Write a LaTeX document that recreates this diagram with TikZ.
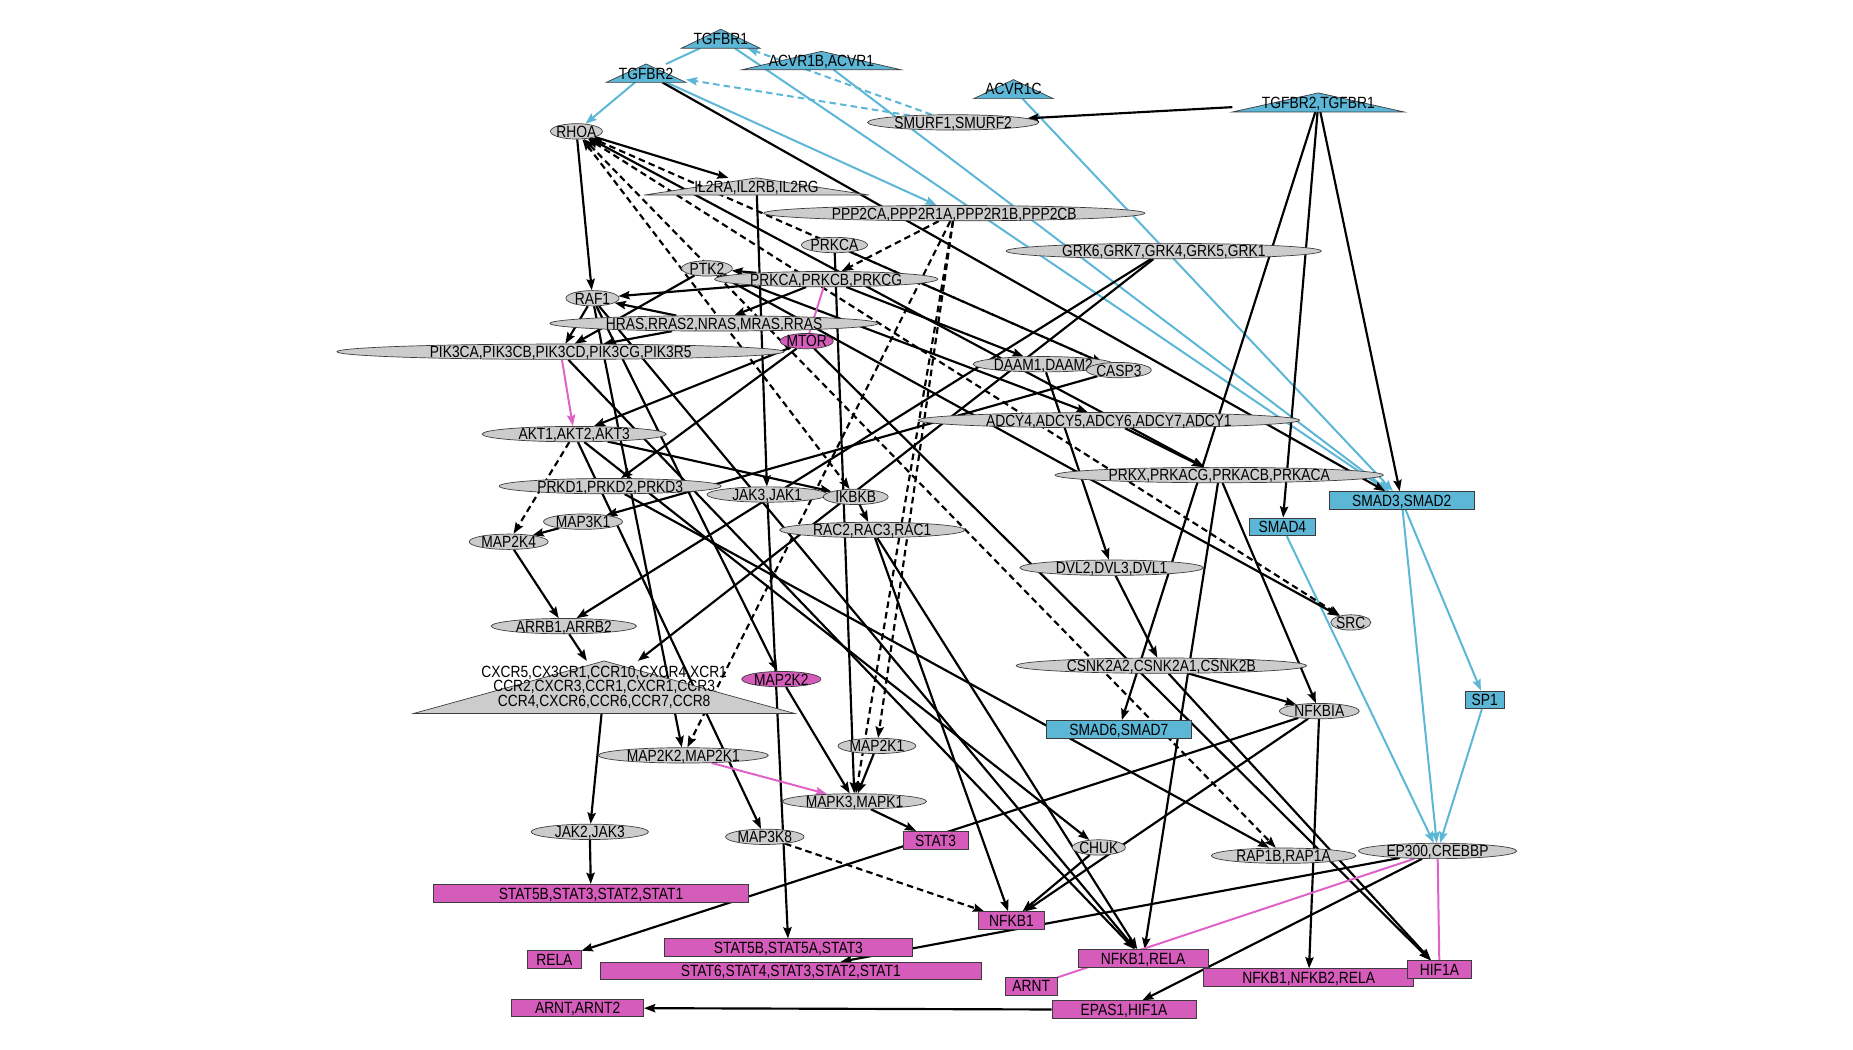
\documentclass[tikz,border=0pt]{standalone}
\usepackage{fontspec}
\setmainfont[FakeStretch=0.85]{Liberation Sans}
\usetikzlibrary{shapes.geometric, arrows.meta}
\definecolor{tgfblue}{RGB}{92,182,214}
\definecolor{hubpink}{RGB}{213,92,186}
\definecolor{pinkedge}{RGB}{222,98,200}
\definecolor{nodegray}{RGB}{204,204,204}
\definecolor{nodeline}{RGB}{60,60,60}
\pgfdeclarelayer{edges}
\pgfdeclarelayer{shapes}
\pgfsetlayers{edges,shapes,main}

\begin{document}
\begin{tikzpicture}[x=0.024cm, y=-0.024cm,
  every label/.style={font=\fontsize{9.4}{8.2}\selectfont, inner sep=0pt, text height=6.8pt, text depth=0pt},
  ell/.style={ellipse, draw=nodeline, line width=0.4pt, fill=nodegray, inner sep=0pt,
    minimum height=13*0.024cm, minimum width=#1*0.024cm},
  mell/.style={ell=#1, fill=hubpink},
  rbox/.style={rectangle, draw=nodeline, line width=0.5pt, fill=hubpink, inner sep=0pt,
    minimum height=15*0.024cm, minimum width=#1*0.024cm},
  bbox/.style={rbox=#1, fill=tgfblue},
  tri/.style 2 args={rectangle, inner sep=0pt, minimum width=#1*0.024cm, minimum height=#2*0.024cm},
  >={Stealth[length=6.5pt, width=4.8pt, inset=1pt]},
  kedge/.style={->, line width=1.25pt},
  kdash/.style={kedge, dash pattern=on 3.8pt off 2.4pt},
  bedge/.style={->, tgfblue, line width=1.15pt},
  bdash/.style={bedge, dash pattern=on 3.8pt off 2.4pt},
  medge/.style={->, pinkedge, line width=1.15pt},
  mline/.style={pinkedge, line width=1.15pt}]

  \useasboundingbox (0,0) rectangle (1570,889);
  \begin{pgfonlayer}{edges}
    \fill[white] (0,0) rectangle (1570,889);
  \end{pgfonlayer}

  % receptors (triangles)
  \node[tri={66}{15.5}, label={center:TGFBR1}] (tgfbr1) at (610.7,32.8) {};
  \node[tri={134}{15}, label={center:ACVR1B,ACVR1}] (acvr1b) at (696,51.3) {};
  \node[tri={67}{15}, label={center:TGFBR2}] (tgfbr2) at (547.4,62) {};
  \node[tri={66.6}{15.5}, label={center:ACVR1C}] (acvr1c) at (858.7,75.5) {};
  \node[tri={145}{15.6}, label={center:TGFBR2,TGFBR1}] (tgfbrc) at (1117,86.8) {};

  % upper part
  \node[ell=44, label={center:RHOA}] (rhoa) at (488.4,111.3) {};
  \node[ell=145, label={center:SMURF1,SMURF2}] (smurf) at (807.6,103.7) {};
  \node[tri={190}{14}, label={center:IL2RA,IL2RB,IL2RG}] (il2r) at (641,158) {};
  \node[ell=323, label={center:PPP2CA,PPP2R1A,PPP2R1B,PPP2CB}] (ppp2) at (808.5,180.6) {};
  \node[ell=56, label={center:PRKCA}] (prkca) at (707,207.6) {};
  \node[ell=267, label={center:GRK6,GRK7,GRK4,GRK5,GRK1}] (grk) at (986,212.7) {};
  \node[ell=43, label={center:PTK2}] (ptk2) at (599,227.4) {};
  \node[ell=189, label={center:PRKCA,PRKCB,PRKCG}] (prkcg) at (700,236.5) {};
  \node[ell=45, label={center:RAF1}] (raf1) at (502,252.7) {};
  \node[ell=278, label={center:HRAS,RRAS2,NRAS,MRAS,RRAS}] (hras) at (605,274) {};
  \node[ell=379, label={center:PIK3CA,PIK3CB,PIK3CD,PIK3CG,PIK3R5}] (pik3) at (475,298) {};
  \node[mell=45, label={center:MTOR}] (mtor) at (683.5,289) {};
  \node[ell=119, label={center:DAAM1,DAAM2}] (daam) at (884,308.6) {};
  \node[ell=55, label={center:CASP3}] (casp3) at (948,313.6) {};
  \node[ell=323, label={center:ADCY4,ADCY5,ADCY6,ADCY7,ADCY1}] (adcy) at (939.5,356) {};

  % middle part
  \node[ell=156, label={center:AKT1,AKT2,AKT3}] (akt) at (486.5,367.8) {};
  \node[ell=278, label={center:PRKX,PRKACG,PRKACB,PRKACA}] (prkx) at (1033,402.5) {};
  \node[ell=188, label={center:PRKD1,PRKD2,PRKD3}] (prkd) at (517,411.9) {};
  \node[ell=102, label={center:JAK3,JAK1}] (jak31) at (650,419) {};
  \node[ell=55, label={center:IKBKB}] (ikbkb) at (725,421) {};
  \node[bbox=123, label={center:SMAD3,SMAD2}] (smad32) at (1187.6,424) {};
  \node[ell=67, label={center:MAP3K1}] (map3k1) at (494,442) {};
  \node[bbox=56, label={center:SMAD4}] (smad4) at (1086.5,446.4) {};
  \node[ell=157, label={center:RAC2,RAC3,RAC1}] (rac) at (739,449) {};
  \node[ell=67, label={center:MAP2K4}] (map2k4) at (431,459) {};
  \node[ell=155.5, label={center:DVL2,DVL3,DVL1}] (dvl) at (941.8,481) {};
  \node[ell=34, label={center:SRC}] (src) at (1144.5,527.4) {};
  \node[ell=123, label={center:ARRB1,ARRB2}] (arrb) at (477.8,530.5) {};
  \node[ell=246, label={center:CSNK2A2,CSNK2A1,CSNK2B}] (csnk2) at (984,564) {};
  \node[mell=67, label={center:MAP2K2}] (map2k2) at (662,575.4) {};
  \node[tri={323}{44}, label={[align=center, text height=, text depth=]center:CXCR5,CX3CR1,CCR10,CXCR4,XCR1\\CCR2,CXCR3,CCR1,CXCR1,CCR3\\CCR4,CXCR6,CCR6,CCR7,CCR8}] (cxcr) at (511.9,582.3) {};
  \node[bbox=33.5, label={center:SP1}] (sp1) at (1258,593) {};
  \node[ell=67.6, label={center:NFKBIA}] (nfkbia) at (1117.8,602.5) {};
  \node[bbox=123, label={center:SMAD6,SMAD7}] (smad67) at (948,618) {};
  \node[ell=66, label={center:MAP2K1}] (map2k1) at (743,632) {};
  \node[ell=144, label={center:MAP2K2,MAP2K1}] (mek) at (579,640) {};
  \node[ell=122, label={center:MAPK3,MAPK1}] (erk) at (724,679) {};

  % lower part
  \node[ell=99.4, label={center:JAK2,JAK3}] (jak23) at (499.7,704.8) {};
  \node[ell=66.5, label={center:MAP3K8}] (map3k8) at (648,709) {};
  \node[rbox=55, label={center:STAT3}] (stat3) at (792.6,711.9) {};
  \node[ell=45, label={center:CHUK}] (chuk) at (931,718) {};
  \node[ell=122.5, label={center:RAP1B,RAP1A}] (rap1) at (1087.5,725) {};
  \node[ell=134, label={center:EP300,CREBBP}] (ep300) at (1218,721) {};
  \node[rbox=267.5, label={center:STAT5B,STAT3,STAT2,STAT1}] (stat5b) at (500.7,756.8) {};
  \node[rbox=55.7, label={center:NFKB1}] (nfkb1) at (857,780) {};
  \node[rbox=210.8, label={center:STAT5B,STAT5A,STAT3}] (stat5a) at (668,803) {};
  \node[rbox=45.4, label={center:RELA}] (rela) at (469.7,813) {};
  \node[rbox=110, label={center:NFKB1,RELA}] (nfkbrela) at (968.5,812) {};
  \node[rbox=323, label={center:STAT6,STAT4,STAT3,STAT2,STAT1}] (stat6) at (670,822.7) {};
  \node[rbox=43.8, label={center:ARNT}] (arnt) at (873.7,835.5) {};
  \node[rbox=178, label={center:NFKB1,NFKB2,RELA}] (nfkb12) at (1108.8,828.4) {};
  \node[rbox=54.6, label={center:HIF1A}] (hif1a) at (1219.6,821.4) {};
  \node[rbox=111.8, label={center:ARNT,ARNT2}] (arnt2) at (489.4,854) {};
  \node[rbox=122, label={center:EPAS1,HIF1A}] (epas1) at (952.3,855.5) {};

  % triangle bodies
  \begin{pgfonlayer}{shapes}
    \foreach \t in {tgfbr1,acvr1b,tgfbr2,acvr1c,tgfbrc}
      \filldraw[fill=tgfblue, draw=nodeline, line width=0.4pt] (\t.south west) -- (\t.south east) -- (\t.north) -- cycle;
    \foreach \t in {il2r,cxcr}
      \filldraw[fill=nodegray, draw=nodeline, line width=0.4pt] (\t.south west) -- (\t.south east) -- (\t.north) -- cycle;
  \end{pgfonlayer}

  \begin{pgfonlayer}{edges}
    % TGF-beta edges
    \draw[tgfblue, line width=1.15pt] (tgfbr1) -- (tgfbr2);
    \foreach \a/\b in {tgfbr2/rhoa, tgfbr2/ppp2, tgfbr1/smad32, acvr1b/smad32, acvr1c/smad32,
        smad32/ep300, smad32/sp1, smad4/ep300, sp1/ep300}
      \draw[bedge] (\a) -- (\b);
    \foreach \b in {tgfbr1, tgfbr2}
      \draw[bdash] (smurf) -- (\b);
    % activation
    \foreach \a/\b in {tgfbr2/smad32, tgfbrc/smurf, tgfbrc/smad32, tgfbrc/smad4, tgfbrc/smad67,
        rhoa/raf1, rhoa/il2r, rhoa/prkx,
        prkcg/raf1, prkcg/ptk2, prkcg/daam, prkcg/hras,
        hras/raf1, hras/pik3, raf1/pik3, ptk2/pik3,
        raf1/mek, raf1/map2k2, raf1/nfkbrela, pik3/nfkbrela,
        ptk2/adcy, ptk2/src, il2r/jak31, jak31/stat5a, prkca/erk,
        mtor/akt, mtor/prkd, mtor/hif1a,
        akt/ikbkb, akt/map3k8, akt/chuk, ikbkb/rac,
        casp3/map3k1, map3k1/map2k4, map2k4/arrb, arrb/cxcr, grk/arrb, grk/cxcr,
        cxcr/jak23, jak23/stat5b, map2k2/erk, map2k1/erk, erk/stat3,
        nfkbia/rela, nfkbia/nfkb1, nfkbia/nfkb12,
        ep300/stat6, ep300/epas1, epas1/arnt2,
        csnk2/hif1a, csnk2/nfkbia, dvl/csnk2, daam/dvl,
        prkd/rap1, prkx/nfkbia, prkx/nfkbrela, adcy/prkx,
        rac/nfkb1, rac/nfkbrela, chuk/nfkb1}
      \draw[kedge] (\a) -- (\b);
    % indirect
    \foreach \a/\b in {ppp2/prkcg, ppp2/map2k1, ppp2/mek, ppp2/erk, prkca/casp3, akt/map2k4, map3k8/nfkb1}
      \draw[kdash] (\a) -- (\b);
    \foreach \b in {casp3, src, rap1, ikbkb}
      \draw[kdash, <->] (rhoa) -- (\b);
    % pink edges
    \draw[medge] (pik3) -- (akt);
    \draw[medge] (mek) -- (erk);
    \draw[mline] (prkcg) -- (mtor);
    \draw[mline] (ep300) -- (arnt);
    \draw[mline] (ep300) -- (hif1a);
  \end{pgfonlayer}
\end{tikzpicture}
\end{document}
